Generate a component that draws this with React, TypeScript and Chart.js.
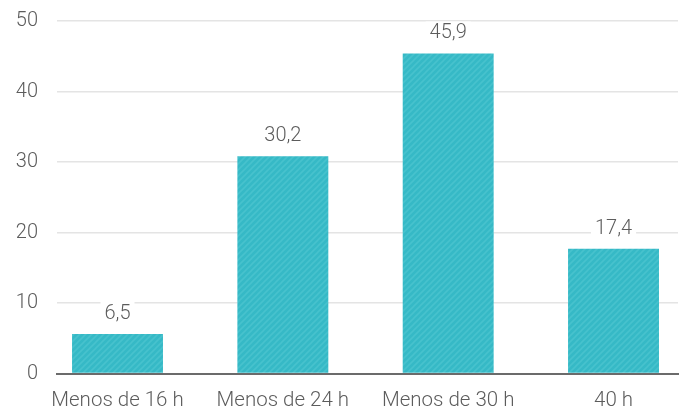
import React, { useEffect, useRef } from "react";
import { Chart, registerables } from "chart.js";

Chart.register(...registerables);

const categories = ["Menos de 16 h", "Menos de 24 h", "Menos de 30 h", "40 h"];
const barValues = [5.6, 30.8, 45.4, 17.7];
const valueLabels = ["6,5", "30,2", "45,9", "17,4"];
const yTicks = [0, 10, 20, 30, 40, 50];

const FONT = "Roboto, 'Noto Sans', sans-serif";
const TEXT_COLOR = "#5c5c5c";

function makePattern(): CanvasPattern | string {
  const s = 6;
  const c = document.createElement("canvas");
  c.width = s;
  c.height = s;
  const ctx = c.getContext("2d");
  if (!ctx) return "#38bac6";
  ctx.fillStyle = "#36b9c6";
  ctx.fillRect(0, 0, s, s);
  ctx.strokeStyle = "#47c2cd";
  ctx.lineWidth = 1.6;
  const lines = [
    [-s, s, s, -s],
    [0, s, s, 0],
    [0, 2 * s, 2 * s, 0],
  ];
  for (const [x1, y1, x2, y2] of lines) {
    ctx.beginPath();
    ctx.moveTo(x1, y1);
    ctx.lineTo(x2, y2);
    ctx.stroke();
  }
  const p = ctx.createPattern(c, "repeat");
  return p || "#38bac6";
}

const valueLabelPlugin = {
  id: "valueLabels",
  afterDatasetsDraw(chart: any) {
    const { ctx } = chart;
    const meta = chart.getDatasetMeta(0);
    const yScale = chart.scales.y;
    ctx.save();
    ctx.font = `300 20px ${FONT}`;
    ctx.textAlign = "center";
    ctx.textBaseline = "middle";
    meta.data.forEach((bar: any, i: number) => {
      const top = yScale.getPixelForValue(barValues[i]);
      const cy = top - 21;
      const text = valueLabels[i];
      const w = ctx.measureText(text).width + 8;
      ctx.fillStyle = "#ffffff";
      ctx.fillRect(bar.x - w / 2, cy - 11, w, 22);
      ctx.fillStyle = TEXT_COLOR;
      ctx.fillText(text, bar.x, cy + 1);
    });
    ctx.restore();
  },
};

export default function App() {
  const canvasRef = useRef<HTMLCanvasElement | null>(null);

  useEffect(() => {
    document.body.style.margin = "0";
    const canvas = canvasRef.current;
    if (!canvas) return;
    const chart = new Chart(canvas, {
      type: "bar",
      data: {
        datasets: [
          {
            data: barValues.map((v, i) => ({ x: i, y: v })),
            backgroundColor: makePattern() as any,
            borderWidth: 0,
            categoryPercentage: 1,
            barPercentage: 0.55,
          },
        ],
      },
      options: {
        animation: false,
        responsive: false,
        maintainAspectRatio: false,
        layout: { padding: { top: 21, right: 3, bottom: 0, left: 0 } },
        plugins: {
          legend: { display: false },
          tooltip: { enabled: false },
        },
        scales: {
          x: {
            type: "linear",
            offset: false,
            min: -0.366,
            max: 3.39,
            grid: { display: false, drawTicks: false },
            border: { display: true, color: "#6b6b6b", width: 2 },
            afterBuildTicks: (scale: any) => {
              scale.ticks = categories.map((_, i) => ({ value: i }));
            },
            afterFit: (scale: any) => {
              scale.height = 39.5;
              scale.paddingLeft = 0;
              scale.paddingRight = 0;
            },
            ticks: {
              autoSkip: false,
              maxRotation: 0,
              padding: 15,
              color: TEXT_COLOR,
              font: { family: FONT, size: 20.5, weight: 300 },
              callback: (v: any) => categories[Number(v)] ?? "",
            },
          },
          y: {
            min: 0,
            max: 50,
            afterBuildTicks: (scale: any) => {
              scale.ticks = yTicks.map((v) => ({ value: v }));
            },
            afterFit: (scale: any) => {
              scale.width = 57;
              scale.paddingTop = 0;
              scale.paddingBottom = 0;
            },
            grid: { color: "#e4e4e4", lineWidth: 1.5, drawTicks: false },
            border: { display: false },
            ticks: {
              padding: 19,
              color: TEXT_COLOR,
              font: { family: FONT, size: 20, weight: 300 },
            },
          },
        },
      },
      plugins: [valueLabelPlugin],
    });
    return () => chart.destroy();
  }, []);

  return (
    <div style={{ width: 681, height: 413, position: "relative" }}>
      <canvas ref={canvasRef} width={681} height={413} style={{ display: "block" }} />
    </div>
  );
}
